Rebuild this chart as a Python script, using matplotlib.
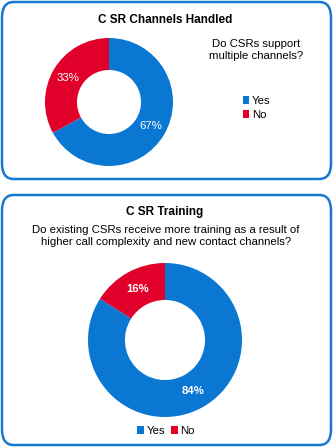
import matplotlib.pyplot as plt
from matplotlib.patches import FancyBboxPatch, Patch

plt.rcParams['font.family'] = ['Liberation Sans', 'DejaVu Sans']

# Datos
categorias = ['Yes', 'No']
canales = [67, 33]
formacion = [84, 16]
colores = ['#0A78D2', '#E0002A']
borde = '#1878D0'

W, H = 334, 447
fig = plt.figure(figsize=(W / 100, H / 100), dpi=100)


def px_box(x0, y0, x1, y1):
    # caja redondeada en coordenadas de píxel (origen arriba a la izquierda)
    p = FancyBboxPatch((x0 / W, 1 - y1 / H), (x1 - x0) / W, (y1 - y0) / H,
                       boxstyle='round,pad=0,rounding_size=0.035',
                       transform=fig.transFigure, fill=False,
                       edgecolor=borde, linewidth=1.8)
    fig.add_artist(p)


def pie_ax(cx, cy, r):
    return fig.add_axes([(cx - r) / W, 1 - (cy + r) / H, 2 * r / W, 2 * r / H])


def fig_text(x, y, s, **kw):
    fig.text(x / W, 1 - y / H, s, ha='center', va='center', **kw)


# Panel superior
px_box(2, 2, 331, 179)
fig_text(165, 20, 'C SR Channels Handled', fontsize=8.5, fontweight='bold')
fig_text(256, 50, 'Do CSRs support\nmultiple channels?', fontsize=8.2,
         linespacing=1.15)

ax1 = pie_ax(109, 102, 64)
_, _, auto1 = ax1.pie(canales, colors=colores, startangle=90, counterclock=False,
                      wedgeprops=dict(width=0.5), autopct='%d%%', pctdistance=0.75,
                      textprops=dict(color='white', fontsize=8.2))
ax1.set_xlim(-1, 1)
ax1.set_ylim(-1, 1)

handles = [Patch(facecolor=c) for c in colores]
fig.legend(handles, categorias, loc='center left',
           bbox_to_anchor=(238 / W, 1 - 108 / H), frameon=False,
           fontsize=8.2, handlelength=0.6, handleheight=0.6,
           handletextpad=0.2, labelspacing=0.35, borderaxespad=0)

# Panel inferior
px_box(2, 195, 331, 445)
fig_text(165, 212, 'C SR Training', fontsize=8.5, fontweight='bold')
fig_text(166, 236, 'Do existing CSRs receive more training as a result of\n'
         'higher call complexity and new contact channels?', fontsize=8.2,
         linespacing=1.15)

ax2 = pie_ax(165, 340, 77)
_, _, auto2 = ax2.pie(formacion, colors=colores, startangle=90, counterclock=False,
                      wedgeprops=dict(width=0.48), autopct='%d%%', pctdistance=0.75,
                      textprops=dict(color='white', fontsize=8.2, fontweight='bold'))
ax2.set_xlim(-1, 1)
ax2.set_ylim(-1, 1)

fig.legend(handles, categorias, loc='center', ncol=2,
           bbox_to_anchor=(166 / W, 1 - 431 / H), frameon=False,
           fontsize=8.2, handlelength=0.6, handleheight=0.6,
           handletextpad=0.2, columnspacing=0.5, borderaxespad=0)

fig.savefig('out.png', dpi=100)
